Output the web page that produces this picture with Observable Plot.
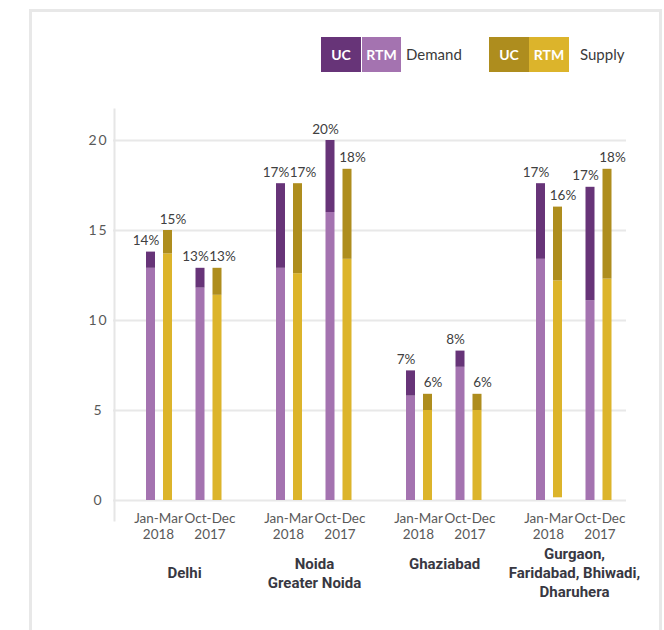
<!DOCTYPE html>
<html>
<head>
<meta charset="utf-8">
<script src="https://cdn.jsdelivr.net/npm/d3@7"></script>
<script src="https://cdn.jsdelivr.net/npm/@observablehq/plot@0.6"></script>
<style>
  body { margin: 0; background: #fff; font-family: Lato, "Open Sans", sans-serif; }
  #wrap { position: relative; width: 664px; height: 630px; overflow: hidden; }
  #border { position: absolute; left: 29px; top: 9px; width: 627px; height: 660px; border: 3px solid #e8e8e8; border-bottom: none; pointer-events: none; z-index: 2; }
  #legend { position: relative; height: 100px; }
  .box { position: absolute; top: 37px; height: 35px; line-height: 35px; color: #fff; font-weight: bold; font-size: 14px; text-align: center; }
  .lbl { position: absolute; top: 37px; height: 35px; line-height: 35px; color: #3a3a3a; font-size: 15px; }
  g[aria-label="y-axis tick label"] text { letter-spacing: 2px; }
  g[aria-label="city label"] text { letter-spacing: 0.3px; }
</style>
</head>
<body>
<div id="wrap">
  <div id="border"></div>
  <div id="legend"></div>
  <div id="chart"></div>
</div>
<script>
// ---- data ----
const cities = ["Delhi", "Noida", "Ghaziabad", "Gurgaon"];
const cityLabels = ["Delhi", "Noida\nGreater Noida", "Ghaziabad\n", "Gurgaon,\nFaridabad, Bhiwadi,\nDharuhera"];
const periods = ["Jan-Mar\n2018", "Oct-Dec\n2017"];
const yTicks = [0, 5, 10, 15, 20];

// Jan-Mar 2018
const demandTotalJan = [13.8, 17.6, 7.2, 17.6];
const demandRtmJan   = [12.9, 12.9, 5.8, 13.4];
const supplyTotalJan = [15.0, 17.6, 5.9, 16.3];
const supplyRtmJan   = [13.7, 12.6, 5.0, 12.2];
const supplyBaseJan  = [0, 0, 0, 0.15];
const demandPctJan   = ["14%", "17%", "7%", "17%"];
const supplyPctJan   = ["15%", "17%", "6%", "16%"];

// Oct-Dec 2017
const demandTotalOct = [12.9, 20.0, 8.3, 17.4];
const demandRtmOct   = [11.8, 16.0, 7.4, 11.1];
const supplyTotalOct = [12.9, 18.4, 5.9, 18.4];
const supplyRtmOct   = [11.4, 13.4, 5.0, 12.3];
const supplyBaseOct  = [0, 0, 0, 0];
const demandPctOct   = ["13%", "20%", "8%", "17%"];
const supplyPctOct   = ["13%", "18%", "6%", "18%"];

const legendItems = [
  {name: "Demand", uc: "#673478", rtm: "#a473b0"},
  {name: "Supply", uc: "#ae8d1e", rtm: "#dcb42b"}
];

// ---- legend ----
const legend = document.getElementById("legend");
const legendPos = [{uc: 321, rtm: 362, w1: 40, w2: 39, t: 406}, {uc: 489, rtm: 529, w1: 40, w2: 40, t: 580}];
legendItems.forEach((it, i) => {
  const p = legendPos[i];
  legend.insertAdjacentHTML("beforeend",
    `<div class="box" style="left:${p.uc}px;width:${p.w1}px;background:${it.uc}">UC</div>` +
    `<div class="box" style="left:${p.rtm}px;width:${p.w2}px;background:${it.rtm}">RTM</div>` +
    `<div class="lbl" style="left:${p.t}px">${it.name}</div>`);
});

// ---- table ----
function rowsFor(total, rtm, base, pct) {
  return cities.map((c, i) => ({city: c, total: total[i], rtm: rtm[i], base: base[i], pct: pct[i]}));
}
const zeros = [0, 0, 0, 0];
const series = [
  {rows: rowsFor(demandTotalJan, demandRtmJan, zeros, demandPctJan), col: legendItems[0], il: 2, ir: 69, shift: -5},
  {rows: rowsFor(supplyTotalJan, supplyRtmJan, supplyBaseJan, supplyPctJan), col: legendItems[1], il: 19, ir: 52, shift: 5},
  {rows: rowsFor(demandTotalOct, demandRtmOct, zeros, demandPctOct), col: legendItems[0], il: 51.5, ir: 19.5, shift: -5},
  {rows: rowsFor(supplyTotalOct, supplyRtmOct, supplyBaseOct, supplyPctOct), col: legendItems[1], il: 68.5, ir: 2.5, shift: 5}
];
const BW = 80;

const periodRows = [];
cities.forEach(c => periods.forEach((p, j) => periodRows.push({city: c, period: p, j})));
const cityRows = cities.map((c, i) => ({city: c, label: cityLabels[i]}));

const marks = [
  Plot.gridY(yTicks, {stroke: "#e8e8e8", strokeOpacity: 1, strokeWidth: 2}),
  Plot.frame({anchor: "left", stroke: "#e6e6e6", strokeWidth: 2, insetTop: -31, insetBottom: -20, dx: 1}),
  Plot.axisY(yTicks, {tickSize: 0, tickPadding: 15, textAnchor: "middle", fill: "#595959", fontSize: 14, ariaLabel: "y-axis"})
];
series.forEach(s => {
  marks.push(Plot.barY(s.rows, {x: "city", y1: "base", y2: "rtm", fill: s.col.rtm, insetLeft: s.il, insetRight: s.ir}));
  marks.push(Plot.barY(s.rows, {x: "city", y1: "rtm", y2: "total", fill: s.col.uc, insetLeft: s.il, insetRight: s.ir}));
  const dx = s.il + (BW - s.il - s.ir) / 2 - BW / 2 + s.shift;
  marks.push(Plot.text(s.rows, {x: "city", y: "total", text: "pct", dx, dy: -7, lineAnchor: "bottom", fill: "#404040", fontSize: 13.5}));
});
periods.forEach((p, j) => {
  marks.push(Plot.text(periodRows.filter(d => d.j === j), {
    x: "city", text: "period", frameAnchor: "bottom", lineAnchor: "top", dy: 11, dx: j === 0 ? -26 : 25.5,
    lineHeight: 1.2, fill: "#595959", fontSize: 13.5
  }));
});
marks.push(Plot.text(cityRows, {
  x: "city", text: "label", frameAnchor: "bottom", lineAnchor: "middle", dy: 71.5,
  lineHeight: 1.27, fill: "#383842", fontSize: 15, fontWeight: "bold", fontFamily: "Roboto", ariaLabel: "city label"
}));

const chart = Plot.plot({
  width: 664,
  height: 530,
  marginTop: 40,
  marginBottom: 130,
  marginLeft: 113,
  marginRight: 38,
  style: {background: "none", fontFamily: "Lato", overflow: "visible"},
  x: {type: "band", domain: cities, range: [143.75, 614.65], paddingInner: 1 - BW / 130.3, paddingOuter: 0, axis: null},
  y: {domain: [0, 20], axis: null},
  marks
});
document.getElementById("chart").appendChild(chart);
</script>
</body>
</html>
